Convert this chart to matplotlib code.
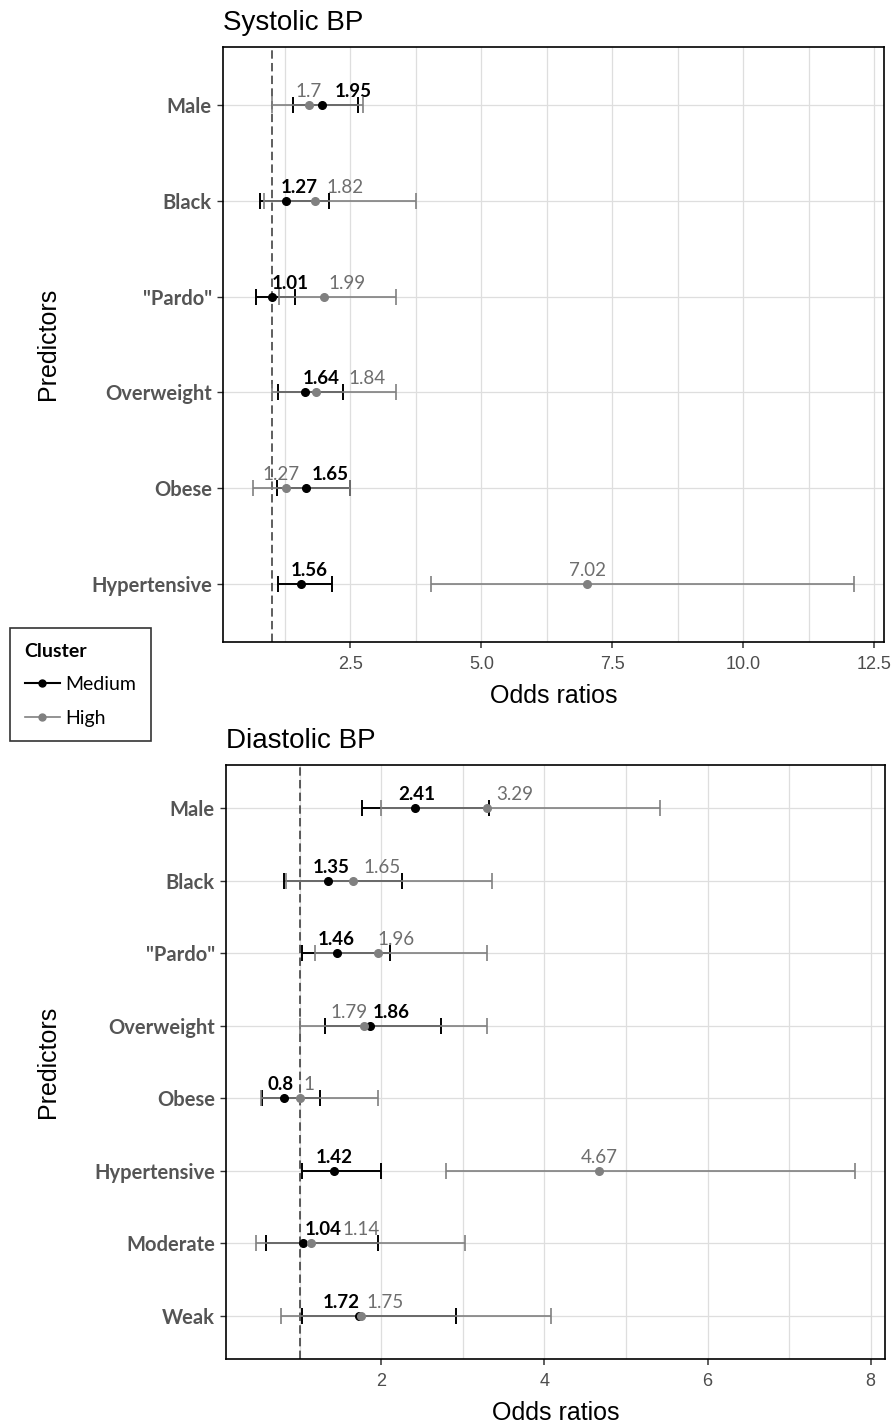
import matplotlib
matplotlib.use('Agg')
import matplotlib.pyplot as plt
from matplotlib.lines import Line2D
from matplotlib.ticker import MultipleLocator, FormatStrFormatter

# Systolic BP: odds ratios with 95% CI per cluster
sys_predictors = ['Male', 'Black', '"Pardo"', 'Overweight', 'Obese', 'Hypertensive']
sys_med_or = [1.95, 1.27, 1.01, 1.64, 1.65, 1.56]
sys_med_lo = [1.40, 0.78, 0.70, 1.12, 1.09, 1.12]
sys_med_hi = [2.65, 2.09, 1.44, 2.36, 2.50, 2.15]
sys_high_or = [1.70, 1.82, 1.99, 1.84, 1.27, 7.02]
sys_high_lo = [1.00, 0.84, 1.14, 1.00, 0.64, 4.04]
sys_high_hi = [2.74, 3.75, 3.37, 3.37, 2.50, 12.11]

# Diastolic BP
dia_predictors = ['Male', 'Black', '"Pardo"', 'Overweight', 'Obese',
                  'Hypertensive', 'Moderate', 'Weak']
dia_med_or = [2.41, 1.35, 1.46, 1.86, 0.80, 1.42, 1.04, 1.72]
dia_med_lo = [1.76, 0.81, 1.02, 1.31, 0.54, 1.02, 0.58, 1.02]
dia_med_hi = [3.32, 2.25, 2.10, 2.73, 1.24, 2.00, 1.96, 2.92]
dia_high_or = [3.29, 1.65, 1.96, 1.79, 1.00, 4.67, 1.14, 1.75]
dia_high_lo = [2.00, 0.83, 1.18, 1.00, 0.52, 2.79, 0.46, 0.77]
dia_high_hi = [5.42, 3.36, 3.30, 3.30, 1.96, 7.81, 3.03, 4.08]

cluster_names = ['Medium', 'High']

# horizontal nudges of the value labels (pixels), to keep them apart
sys_med_nudge = [32, 13, 18, 16, 24, 8]
sys_high_nudge = [0, 30, 23, 51, -5, 0]
dia_med_nudge = [2, 3, -1, 21, -3, 0, 20, -17]
dia_high_nudge = [28, 29, 18, -15, 9, 0, 50, 24]

MED = 'black'
HIGH = '#808080'
HIGH_TXT = '#6e6e6e'
GRID = '#dedede'
LABEL_FONT = 'Lato'
AXIS_FONT = 'Liberation Sans'


def forest(ax, title, predictors, med, high, step, fmt, med_nudge, high_nudge):
    """Draw one forest panel; med/high are (or, lo, hi) tuples."""
    n = len(predictors)
    ys = list(range(1, n + 1))

    lo_all = min(med[1] + high[1])
    hi_all = max(med[2] + high[2])
    span = hi_all - lo_all
    ax.set_xlim(lo_all - 0.05 * span, hi_all + 0.05 * span)
    ax.set_ylim(n + 0.6, 0.4)

    ax.xaxis.set_major_locator(MultipleLocator(step))
    ax.xaxis.set_minor_locator(MultipleLocator(step / 2))
    ax.xaxis.set_major_formatter(FormatStrFormatter(fmt))
    ax.set_yticks(ys, labels=predictors, fontfamily=LABEL_FONT,
                  fontweight='bold', fontsize=14.5, color='#555555')
    ax.grid(True, which='both', color=GRID, lw=0.9)
    ax.set_axisbelow(True)

    ax.axvline(1, color='#333333', lw=1.1, ls=(0, (5.5, 2.8)), zorder=1.5)

    for (orv, lo, hi), col, lw in ((med, MED, 1.4), (high, HIGH, 1.2)):
        xerr = [[o - l for o, l in zip(orv, lo)], [h - o for o, h in zip(orv, hi)]]
        ax.errorbar(orv, ys, xerr=xerr, fmt='none', ecolor=col, elinewidth=lw,
                    capsize=6, capthick=lw, zorder=2)
    ax.plot(med[0], ys, 'o', color=MED, ms=5.5, zorder=3)
    ax.plot(high[0], ys, 'o', color=HIGH, ms=5.5, zorder=3)

    for vals, nudges, col, wt in ((med[0], med_nudge, MED, 'bold'),
                                  (high[0], high_nudge, HIGH_TXT, 'normal')):
        for v, y, dx in zip(vals, ys, nudges):
            ax.annotate(f'{v:g}', (v, y), xytext=(dx, 8), textcoords='offset pixels',
                        ha='center', va='baseline', fontsize=13.5,
                        fontfamily=LABEL_FONT, fontweight=wt, color=col, zorder=4)

    for sp in ax.spines.values():
        sp.set_linewidth(1.2)
        sp.set_color('black')
    ax.tick_params(axis='x', which='major', length=4, width=1.1, color='#333333',
                   pad=6, labelsize=13, labelcolor='#4d4d4d',
                   labelfontfamily=AXIS_FONT)
    ax.tick_params(axis='x', which='minor', length=0)
    ax.tick_params(axis='y', length=4, width=1.0, color='#333333', pad=4)

    ax.annotate(title, (0, 1), xycoords='axes fraction', xytext=(0, 17),
                textcoords='offset pixels', ha='left', va='baseline',
                fontsize=20, fontfamily=AXIS_FONT, color='black')
    ax.annotate('Odds ratios', (0.5, 0), xycoords='axes fraction', xytext=(0, -61),
                textcoords='offset pixels', ha='center', va='baseline',
                fontsize=18, fontfamily=AXIS_FONT, color='black')


fig = plt.figure(figsize=(8.95, 14.24), dpi=100)
W, H = 895, 1424
ax1 = fig.add_axes([223 / W, 1 - 642 / H, 661 / W, 595 / H])
ax2 = fig.add_axes([226 / W, 1 - 1359 / H, 659 / W, 594 / H])

forest(ax1, 'Systolic BP', sys_predictors,
       (sys_med_or, sys_med_lo, sys_med_hi),
       (sys_high_or, sys_high_lo, sys_high_hi),
       2.5, '%.1f', sys_med_nudge, sys_high_nudge)
forest(ax2, 'Diastolic BP', dia_predictors,
       (dia_med_or, dia_med_lo, dia_med_hi),
       (dia_high_or, dia_high_lo, dia_high_hi),
       2, '%d', dia_med_nudge, dia_high_nudge)

fig.text(48 / W, 1 - 344 / H, 'Predictors', rotation=90, ha='center', va='center',
         fontsize=18, fontfamily=AXIS_FONT)
fig.text(48 / W, 1 - 1062 / H, 'Predictors', rotation=90, ha='center', va='center',
         fontsize=18, fontfamily=AXIS_FONT)

handles = [Line2D([], [], color=MED, lw=1.5, marker='o', ms=5),
           Line2D([], [], color=HIGH, lw=1.2, marker='o', ms=5)]
leg = fig.legend(handles, cluster_names, title='Cluster', loc='upper left',
                 bbox_to_anchor=(10 / W, 1 - 628 / H), borderaxespad=0,
                 alignment='left',
                 prop={'family': LABEL_FONT, 'size': 14},
                 title_fontproperties={'family': LABEL_FONT, 'size': 14,
                                       'weight': 'bold'},
                 frameon=True, fancybox=False, edgecolor='black',
                 handlelength=1.8, handletextpad=0.3, labelspacing=0.85,
                 borderpad=0.75)
leg.get_frame().set_linewidth(1.2)

fig.savefig('out.png', dpi=100)
